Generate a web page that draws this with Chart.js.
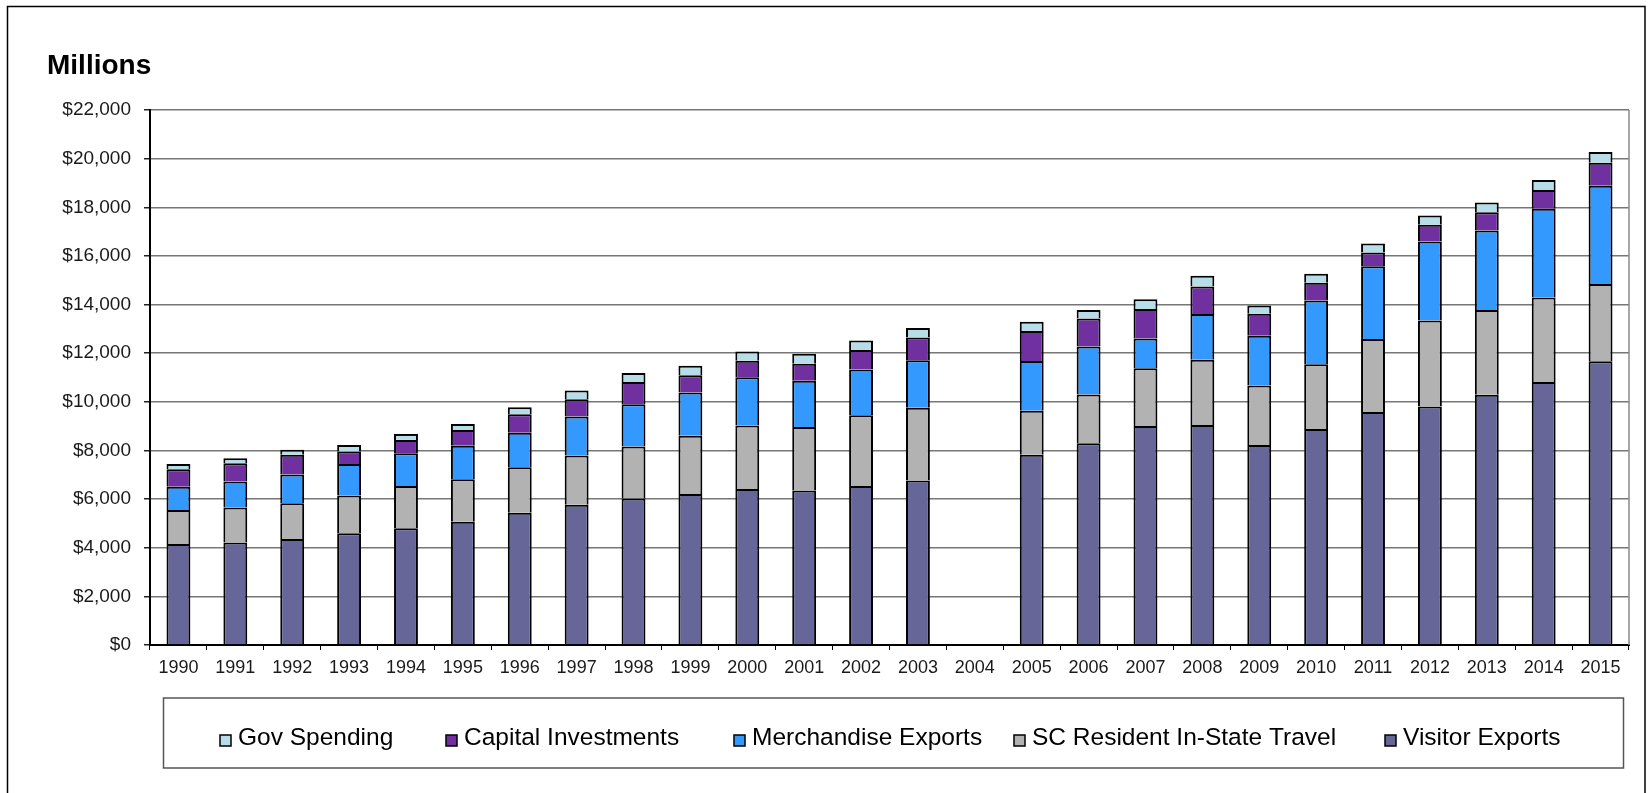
<!DOCTYPE html>
<html>
<head>
<meta charset="utf-8">
<title>Millions</title>
<script src="https://cdn.jsdelivr.net/npm/chart.js@4.4.1/dist/chart.umd.min.js"></script>
<style>
  html, body { margin: 0; padding: 0; background: #fff; }
  #wrap { position: relative; width: 1651px; height: 793px; }
</style>
</head>
<body>
<div id="wrap"><canvas id="chart" width="1651" height="793"></canvas></div>
<script>
// --- data (millions of dollars), 2004 has no bar ---
const years = ['1990', '1991', '1992', '1993', '1994', '1995', '1996', '1997', '1998', '1999', '2000', '2001', '2002',
               '2003', '2004', '2005', '2006', '2007', '2008', '2009', '2010', '2011', '2012', '2013', '2014', '2015'];

const visitorExports = [4150, 4210, 4360, 4600, 4800, 5070, 5440, 5770, 6020, 6210, 6410, 6350, 6540,
                        6760, null, 7820, 8300, 9010, 9050, 8220, 8880, 9580, 9810, 10290, 10820, 11670];
const scResidentTravel = [1400, 1440, 1470, 1550, 1740, 1745, 1870, 2020, 2140, 2390, 2620, 2610, 2910,
                          3000, null, 1810, 2000, 2370, 2680, 2450, 2660, 3005, 3530, 3490, 3470, 3170];
const merchandiseExports = [960, 1070, 1180, 1290, 1345, 1380, 1420, 1605, 1745, 1780, 1980, 1910, 1880,
                            1950, null, 2045, 1975, 1220, 1880, 2045, 2630, 2990, 3250, 3260, 3650, 4050];
const capitalInvestments = [715, 755, 810, 520, 550, 645, 760, 715, 905, 715, 675, 700, 800,
                            930, null, 1235, 1150, 1220, 1135, 905, 730, 565, 690, 755, 770, 945];
const govSpending = [220, 205, 205, 265, 245, 245, 285, 355, 370, 385, 385, 410, 395,
                     400, null, 380, 355, 400, 440, 340, 370, 370, 385, 400, 410, 440];

const yMax = 22000;
const yStep = 2000;

const FONT = '"Liberation Sans", Arial, sans-serif';

// rahmen, titel "Millions" und legende im kasten
const legendIconX = [220, 446, 734, 1014, 1385];

const decorations = {
    id: 'decorations',
    beforeDraw(chart) {
        const ctx = chart.ctx;
        ctx.save();
        ctx.fillStyle = '#fff';
        ctx.fillRect(0, 0, chart.width, chart.height);
        ctx.restore();
    },
    afterDraw(chart) {
        const { ctx, chartArea } = chart;
        ctx.save();

        // outer frame (bottom edge runs off the picture)
        ctx.strokeStyle = '#000';
        ctx.lineWidth = 1.5;
        ctx.strokeRect(7.5, 6.5, 1637.5, 820);

        // right edge of plot area
        ctx.strokeStyle = '#8a8a8a';
        ctx.beginPath();
        ctx.moveTo(chartArea.right, chartArea.top);
        ctx.lineTo(chartArea.right, chartArea.bottom);
        ctx.stroke();

        // title
        ctx.fillStyle = '#000';
        ctx.font = 'bold 28px ' + FONT;
        ctx.textBaseline = 'alphabetic';
        ctx.textAlign = 'left';
        ctx.fillText('Millions', 47, 74);

        // legend box
        ctx.strokeStyle = '#555';
        ctx.lineWidth = 1.5;
        ctx.strokeRect(163.5, 698, 1460, 70);

        ctx.font = '24.5px ' + FONT;
        chart.data.datasets.slice().reverse().forEach((d, i) => {
            const x = legendIconX[i];
            ctx.fillStyle = d.backgroundColor;
            ctx.fillRect(x, 735, 11, 11);
            ctx.strokeStyle = '#000';
            ctx.lineWidth = 1.5;
            ctx.strokeRect(x, 735, 11, 11);
            ctx.fillStyle = '#000';
            ctx.fillText(d.label, x + 18, 744.5);
        });

        ctx.restore();
    }
};

const barStyle = { borderColor: '#000', borderWidth: 2, barPercentage: 0.42, categoryPercentage: 1.0 };

new Chart(document.getElementById('chart').getContext('2d'), {
    type: 'bar',
    data: {
        labels: years,
        datasets: [
            { label: 'Visitor Exports', data: visitorExports, backgroundColor: '#666699', ...barStyle },
            { label: 'SC Resident In-State Travel', data: scResidentTravel, backgroundColor: '#B2B2B2', ...barStyle },
            { label: 'Merchandise Exports', data: merchandiseExports, backgroundColor: '#3399FF', ...barStyle },
            { label: 'Capital Investments', data: capitalInvestments, backgroundColor: '#7030A0', ...barStyle },
            { label: 'Gov Spending', data: govSpending, backgroundColor: '#B7DEE8', ...barStyle }
        ]
    },
    options: {
        responsive: false,
        animation: false,
        layout: { padding: { left: 0, right: 22, top: 110, bottom: 0 } },
        plugins: { legend: { display: false }, tooltip: { enabled: false }, title: { display: false } },
        scales: {
            x: {
                stacked: true,
                afterFit: scale => { scale.height = 148; },
                grid: { drawOnChartArea: false, drawTicks: true, tickLength: 5, tickColor: '#000', offset: true },
                border: { color: '#000', width: 2 },
                ticks: { color: '#1a1a1a', font: { family: FONT, size: 18 }, padding: 7, maxRotation: 0, autoSkip: false }
            },
            y: {
                stacked: true,
                min: 0,
                max: yMax,
                afterFit: scale => { scale.width = 150; },
                grid: { color: '#777', lineWidth: 1.5, tickLength: 6, tickColor: '#222' },
                border: { color: '#000', width: 2 },
                ticks: {
                    stepSize: yStep,
                    padding: 13,
                    color: '#1a1a1a',
                    font: { family: FONT, size: 19 },
                    callback: v => '$' + v.toLocaleString('en-US')
                }
            }
        }
    },
    plugins: [decorations]
});
</script>
</body>
</html>
